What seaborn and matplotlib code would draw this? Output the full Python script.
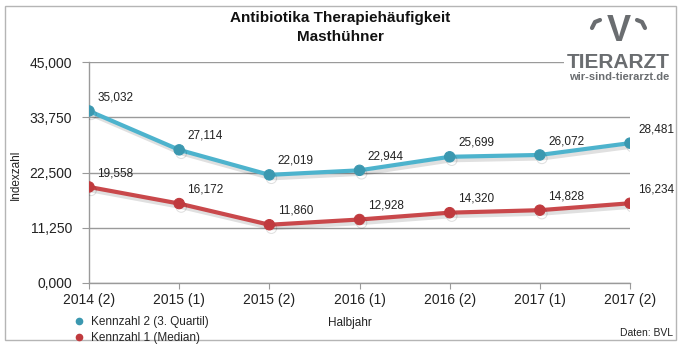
import numpy as np
import pandas as pd
import matplotlib
matplotlib.use('Agg')
import matplotlib.pyplot as plt
import matplotlib.patheffects as pe
from matplotlib.lines import Line2D
from matplotlib.patches import Rectangle
import seaborn as sns

# Daten (Indexzahl je Halbjahr)
halbjahre = ['2014 (2)', '2015 (1)', '2015 (2)', '2016 (1)', '2016 (2)', '2017 (1)', '2017 (2)']
kennzahl2 = [35.032, 27.114, 22.019, 22.944, 25.699, 26.072, 28.481]
kennzahl1 = [19.558, 16.172, 11.860, 12.928, 14.320, 14.828, 16.234]
y_ticks = [0, 11.25, 22.5, 33.75, 45]

name2 = 'Kennzahl 2 (3. Quartil)'
name1 = 'Kennzahl 1 (Median)'
farben = {name2: '#4db3cd', name1: '#c9484b'}
marker_farben = {name2: '#3b98b0', name1: '#c03a3e'}

df = pd.DataFrame({
    'Halbjahr': halbjahre * 2,
    'Indexzahl': kennzahl2 + kennzahl1,
    'Kennzahl': [name2] * len(halbjahre) + [name1] * len(halbjahre),
})

sns.set_style('white')
plt.rcParams['font.family'] = ['Liberation Sans', 'DejaVu Sans']

def komma(v):
    return f'{v:,.3f}'.replace(',', 'X').replace('.', ',').replace('X', '.')

fig = plt.figure(figsize=(6.82, 3.51), dpi=100)
ax = fig.add_axes([89 / 682, 68 / 351, 541 / 682, 221 / 351])

sns.lineplot(data=df, x='Halbjahr', y='Indexzahl', hue='Kennzahl',
             hue_order=[name2, name1], palette=farben, marker='o',
             markersize=7.5, linewidth=3, sort=False, legend=False, ax=ax)

for line, name in zip(ax.lines, [name2, name1]):
    line.set_markerfacecolor(marker_farben[name])
    line.set_markeredgecolor(marker_farben[name])
    line.set_path_effects([pe.SimpleLineShadow(offset=(1.5, -2.5), shadow_color='black', alpha=0.12),
                           pe.Normal()])
    line.set_zorder(3)

for werte in [kennzahl2, kennzahl1]:
    for i, v in enumerate(werte):
        ax.annotate(komma(v), (i, v), xytext=(6, 10), textcoords='offset points',
                    ha='left', va='center', fontsize=8.5, color='#222222', zorder=4)

ax.set_xlim(0, 6)
ax.set_ylim(0, 45)
ax.set_yticks(y_ticks)
ax.set_yticklabels([komma(v) for v in y_ticks], fontsize=10, color='#222222')
ax.set_xticks(range(len(halbjahre)))
ax.set_xticklabels(halbjahre, fontsize=10, color='#222222')
ax.grid(axis='y', color='#9a9a9a', linewidth=1)
ax.grid(axis='x', visible=False)
for s in ['top', 'right']:
    ax.spines[s].set_visible(False)
for s in ['left', 'bottom']:
    ax.spines[s].set_color('#9a9a9a')
    ax.spines[s].set_linewidth(1)
ax.tick_params(axis='y', length=5, color='#9a9a9a', pad=7, left=True)
ax.tick_params(axis='x', length=4, color='#9a9a9a', pad=3, bottom=True)

ax.set_xlabel('Halbjahr', fontsize=8.5, color='#222222')
ax.xaxis.set_label_coords(0.482, -0.155)
ax.set_ylabel('Indexzahl', fontsize=8.5, color='#222222')
ax.yaxis.set_label_coords(-0.124, 0.49)

fig.text(340 / 682, 1 - 18 / 351, 'Antibiotika Therapiehäufigkeit', ha='center', va='center',
         fontsize=11, fontweight='bold', color='#111111')
fig.text(340 / 682, 1 - 37 / 351, 'Masthühner', ha='center', va='center',
         fontsize=11, fontweight='bold', color='#111111')

handles = [Line2D([], [], marker='o', ls='none', color=marker_farben[n], markersize=4.5) for n in [name2, name1]]
fig.legend(handles, [name2, name1], loc='upper left', bbox_to_anchor=(72 / 682, 1 - 316 / 351),
           frameon=False, fontsize=8.5, handletextpad=0.4, labelspacing=0.35, handlelength=1.2,
           borderpad=0, borderaxespad=0)

fig.text(673 / 682, 1 - 333 / 351, 'Daten: BVL', ha='right', va='center', fontsize=7.5, color='#222222')

# Rahmen
fig.patches.append(Rectangle((5 / 682, 1 - 340 / 351), 671 / 682, 334 / 351, transform=fig.transFigure,
                             fill=False, edgecolor='#b5b5b5', linewidth=1))

# Logo
logo = '#6a6d70'
fig.text(618 / 682, 1 - 62 / 351, 'TIERARZT', ha='center', va='center', fontsize=15, fontweight='bold',
         color=logo, bbox=dict(facecolor='white', edgecolor='none', pad=1.5))
fig.text(619 / 682, 1 - 77 / 351, 'wir-sind-tierarzt.de', ha='center', va='center', fontsize=8,
         fontweight='bold', color=logo)
fig.text(618.5 / 682, 1 - 41 / 351, 'V', ha='center', va='baseline', fontsize=26, fontweight='bold', color=logo)
fig.lines.append(Line2D([592 / 682, 595 / 682, 600 / 682], [1 - 28 / 351, 1 - 22 / 351, 1 - 20 / 351],
                        transform=fig.transFigure, color=logo, linewidth=3, solid_capstyle='round'))
fig.lines.append(Line2D([637 / 682, 642 / 682, 645 / 682], [1 - 20 / 351, 1 - 22 / 351, 1 - 28 / 351],
                        transform=fig.transFigure, color=logo, linewidth=3, solid_capstyle='round'))

fig.savefig('out.png', dpi=100, facecolor='white')
